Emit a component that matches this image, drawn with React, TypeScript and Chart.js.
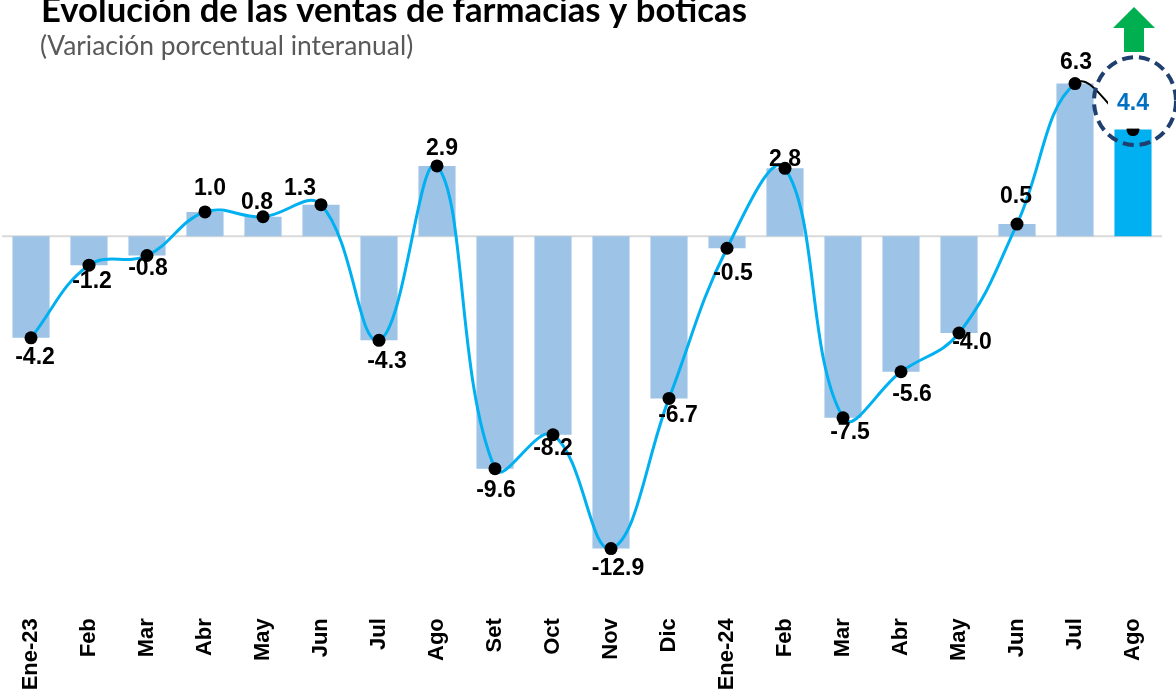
import React, { useEffect, useRef } from "react";
import { Chart, registerables } from "chart.js";

Chart.register(...registerables);

const categories = [
  "Ene-23", "Feb", "Mar", "Abr", "May", "Jun", "Jul", "Ago", "Set", "Oct",
  "Nov", "Dic", "Ene-24", "Feb", "Mar", "Abr", "May", "Jun", "Jul", "Ago",
];
const variation = [
  -4.2, -1.2, -0.8, 1.0, 0.8, 1.3, -4.3, 2.9, -9.6, -8.2,
  -12.9, -6.7, -0.5, 2.8, -7.5, -5.6, -4.0, 0.5, 6.3, 4.4,
];
const titleText = "Evolución de las ventas de farmacias y boticas";
const subtitleText = "(Variación porcentual interanual)";
const yMin = -14;
const yMax = 8;

// label placement relative to each point (styling)
const labelOffsets: [number, number][] = [
  [4, 20], [3, 16], [1, 13], [5, -23], [-6, -14], [-21, -16], [8, 21], [5, -17],
  [1, 22], [0, 14], [7, 20], [9, 17], [6, 25], [0, -9], [7, 15], [11, 23],
  [13, 10], [-1, -27], [1, -21], [0, -26],
];

const LABEL_FONT = 'bold 23px "Liberation Sans", Arial, sans-serif';

const overlay = {
  id: "overlay",
  beforeDatasetsDraw(chart: any) {
    const { ctx, chartArea, scales } = chart;
    const y0 = scales.y.getPixelForValue(0);
    ctx.save();
    ctx.strokeStyle = "#D9D9D9";
    ctx.lineWidth = 2;
    ctx.beginPath();
    ctx.moveTo(chartArea.left, y0);
    ctx.lineTo(chartArea.right, y0);
    ctx.stroke();
    ctx.restore();
  },
  afterDatasetsDraw(chart: any) {
    const { ctx } = chart;
    const meta = chart.getDatasetMeta(0);
    const last = variation.length - 1;
    ctx.save();
    ctx.font = LABEL_FONT;
    ctx.textAlign = "center";
    ctx.textBaseline = "middle";
    meta.data.forEach((pt: any, i: number) => {
      const [dx, dy] = labelOffsets[i];
      const cx = pt.x + dx;
      const cy = pt.y + dy;
      const text = variation[i].toFixed(1);
      if (i === last) {
        ctx.fillStyle = "#FFFFFF";
        ctx.fillRect(cx - 25, cy - 20, 52, 45);
        ctx.fillStyle = "#0070C0";
      } else {
        ctx.fillStyle = "#000000";
      }
      ctx.fillText(text, cx, cy);
    });

    // dashed highlight circle and green arrow around the last value
    const lp = meta.data[last];
    const ccx = lp.x + 2;
    const ccy = lp.y - 28.5;
    ctx.strokeStyle = "#1F3F6E";
    ctx.lineWidth = 4;
    ctx.setLineDash([11, 6]);
    ctx.beginPath();
    ctx.ellipse(ccx, ccy, 41, 44, 0, 0, Math.PI * 2);
    ctx.stroke();
    ctx.setLineDash([]);

    const ax = lp.x + 1;
    const aTop = ccy - 94;
    ctx.fillStyle = "#00B050";
    ctx.beginPath();
    ctx.moveTo(ax, aTop);
    ctx.lineTo(ax + 21, aTop + 21);
    ctx.lineTo(ax + 10, aTop + 21);
    ctx.lineTo(ax + 10, aTop + 45);
    ctx.lineTo(ax - 10, aTop + 45);
    ctx.lineTo(ax - 10, aTop + 21);
    ctx.lineTo(ax - 21, aTop + 21);
    ctx.closePath();
    ctx.fill();
    ctx.restore();
  },
  afterDraw(chart: any) {
    const { ctx } = chart;
    ctx.save();
    ctx.textAlign = "left";
    ctx.textBaseline = "alphabetic";
    ctx.fillStyle = "#000000";
    ctx.font = 'bold 34.7px Lato, "Open Sans", sans-serif';
    ctx.fillText(titleText, 41, 22);
    ctx.fillStyle = "#595959";
    ctx.font = '26.4px Lato, "Open Sans", sans-serif';
    ctx.fillText(subtitleText, 40, 55);
    ctx.restore();
  },
};

export default function App() {
  const ref = useRef<HTMLCanvasElement | null>(null);
  useEffect(() => {
    document.body.style.margin = "0";
    const canvas = ref.current;
    if (!canvas) return;
    const last = variation.length - 1;
    const chart = new Chart(canvas, {
      type: "bar",
      data: {
        labels: categories,
        datasets: [
          {
            type: "line",
            data: variation,
            borderColor: "#00B0F0",
            borderWidth: 3,
            tension: 0.4,
            pointRadius: 6.5,
            pointBackgroundColor: "#000000",
            pointBorderWidth: 0,
            order: 0,
            segment: {
              borderColor: (c: any) => (c.p1DataIndex === last ? "#000000" : undefined),
              borderWidth: (c: any) => (c.p1DataIndex === last ? 2 : undefined),
            },
          } as any,
          {
            type: "bar",
            data: variation,
            backgroundColor: variation.map((_, i) => (i === last ? "#00B0F0" : "#9DC3E6")),
            barPercentage: 0.64,
            categoryPercentage: 1,
            order: 1,
          },
        ],
      },
      options: {
        responsive: false,
        animation: false,
        layout: { autoPadding: false, padding: { left: 2, right: 14, top: 42.4, bottom: 0 } },
        plugins: {
          legend: { display: false },
          tooltip: { enabled: false },
        },
        scales: {
          x: {
            grid: { display: false, drawTicks: true, tickLength: 43 },
            border: { display: false },
            ticks: {
              autoSkip: false,
              maxRotation: 90,
              minRotation: 90,
              padding: 0,
              color: "#000000",
              font: { family: '"Liberation Sans", Arial, sans-serif', size: 22, weight: "bold" },
            },
            afterFit: (s: any) => {
              s.height = 117.8;
            },
          },
          y: { display: false, min: yMin, max: yMax },
        },
      },
      plugins: [overlay],
    });
    return () => chart.destroy();
  }, []);
  return (
    <div style={{ position: "absolute", left: 0, top: 0, width: 1176, height: 693 }}>
      <canvas ref={ref} width={1176} height={693} />
    </div>
  );
}
